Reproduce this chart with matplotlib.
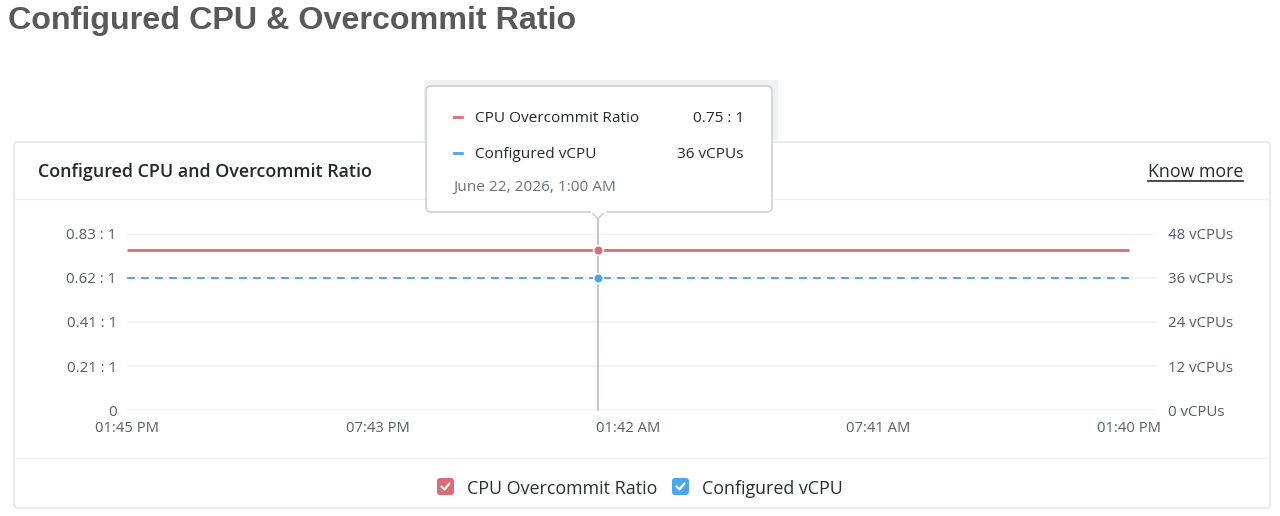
import numpy as np
import pandas as pd
import matplotlib
matplotlib.use("Agg")
import matplotlib.pyplot as plt
import matplotlib.dates as mdates
import matplotlib.transforms as mtransforms
from matplotlib.patches import FancyBboxPatch, Rectangle, Polygon

# data
times = pd.to_datetime(["2026-06-21 13:45", "2026-06-22 01:00", "2026-06-22 13:40"])
ratio = [0.75, 0.75, 0.75]
vcpus = [36, 36, 36]
hover_idx = 1

ratio_max = 0.825
ratio_ticks = [0, 0.20625, 0.4125, 0.61875, 0.825]
ratio_labels = ["0", "0.21 : 1", "0.41 : 1", "0.62 : 1", "0.83 : 1"]
vcpu_ticks = [0, 12, 24, 36, 48]
vcpu_labels = [f"{v} vCPUs" for v in vcpu_ticks]

RED = "#dc6b74"
BLUE = "#4ba6f2"
GRID = "#eceff1"
TICK = "#555d66"
FONT = ["Open Sans", "DejaVu Sans"]
plt.rcParams["font.family"] = FONT

W, H = 1280, 516
fig = plt.figure(figsize=(W / 100, H / 100), dpi=100)

def frac(x0, y0, x1, y1):
    return [x0 / W, 1 - y1 / H, (x1 - x0) / W, (y1 - y0) / H]

# main plot area
ax = fig.add_axes(frac(127, 234, 1156, 410))
ax.plot(times, ratio, color=RED, lw=2.0, solid_capstyle="butt", zorder=3)
ax.set_ylim(0, ratio_max)
ax.set_yticks(ratio_ticks)
ax.set_yticklabels(ratio_labels)
ax.grid(axis="y", color=GRID, lw=1.1)
ax.set_axisbelow(True)

ax2 = ax.twinx()
ax2.plot(times, vcpus, color=BLUE, lw=1.4, ls=(0, (4, 3.2)), zorder=3)
ax2.set_ylim(0, 48)
ax2.set_yticks(vcpu_ticks)
ax2.set_yticklabels(vcpu_labels)

t0, t1 = mdates.date2num(times[0]), mdates.date2num(times[-1])
ax.set_xlim(t0, t1 + (1156 - 1129) / (1129 - 127) * (t1 - t0))
ax.set_xticks(np.linspace(t0, t1, 5))
ax.xaxis.set_major_formatter(mdates.DateFormatter("%I:%M %p"))

for a in (ax, ax2):
    for s in a.spines.values():
        s.set_visible(False)
    a.tick_params(length=0, labelsize=10.8, labelcolor=TICK)
ax.tick_params(axis="x", labelsize=10.6, pad=8)
ax.tick_params(axis="y", pad=7.5)
ax2.tick_params(axis="y", pad=8.5)

# hover crosshair + markers
th = times[hover_idx]
blend = mtransforms.blended_transform_factory(ax.transData, ax.transAxes)
ax.plot([th, th], [0, (410 - 212) / 176], transform=blend, color="#b5bcc4",
        lw=1.2, clip_on=False, zorder=2)
ax.plot(th, ratio[hover_idx], "o", color=RED, ms=7, mec="white", mew=1.2,
        clip_on=False, zorder=5)
ax2.plot(th, vcpus[hover_idx], "o", color=BLUE, ms=7, mec="white", mew=1.2,
         clip_on=False, zorder=5)

# overlay in pixel coordinates for the page decorations
ov = fig.add_axes([0, 0, 1, 1], facecolor="none")
ov.set_xlim(0, W)
ov.set_ylim(H, 0)
ov.axis("off")

fig.text(8 / W, 1 - 21 / H, "Configured CPU & Overcommit Ratio", fontsize=23.2,
         fontweight="bold", color="#595959", va="center", family="Liberation Sans")

# card
ov.add_patch(FancyBboxPatch((14, 142), 1256, 366, boxstyle="round,pad=0,rounding_size=4",
                            fc="none", ec="#e3e6e9", lw=1.2))
ov.plot([14, 1270], [199, 199], color="#eceef0", lw=1)
ov.plot([14, 1270], [458, 458], color="#eceef0", lw=1)
ov.text(38, 172, "Configured CPU and Overcommit Ratio", fontsize=12.9, fontweight="semibold",
        color="#25292e", va="center")
ov.text(1243, 172, "Know more", fontsize=12.8, color="#25292e", va="center", ha="right")
ov.plot([1148, 1243], [181, 181], color="#25292e", lw=1.2)

# tooltip
ov.add_patch(Rectangle((424, 80), 354, 60, fc="#f0f1f3", ec="none"))
ov.add_patch(FancyBboxPatch((426, 86), 346, 126, boxstyle="round,pad=0,rounding_size=5",
                            fc="white", ec="#c9ced4", lw=1.1, zorder=4))
ov.add_patch(Polygon([[591, 211.5], [598, 219], [605, 211.5]], closed=False,
                     fc="white", ec="#c9ced4", lw=1.1, zorder=5))
ov.plot([591.5, 604.5], [211.8, 211.8], color="white", lw=1.6, zorder=6)
ov.plot([454, 462], [117, 117], color=RED, lw=2, zorder=6)
ov.plot([454, 462], [153, 153], color=BLUE, lw=2, zorder=6)
ov.text(475, 119, "CPU Overcommit Ratio", fontsize=11.1, color="#25292e", va="center", zorder=6)
ov.text(744, 119, "0.75 : 1", fontsize=11.1, color="#25292e", va="center", ha="right", zorder=6)
ov.text(475, 155, "Configured vCPU", fontsize=11.1, color="#25292e", va="center", zorder=6)
ov.text(744, 155, "36 vCPUs", fontsize=11.1, color="#25292e", va="center", ha="right", zorder=6)
ov.text(453, 188, "June 22, 2026, 1:00 AM", fontsize=11.1, color="#6b737c", va="center", zorder=6)

# legend with checkboxes
def checkbox(x, y, color):
    ov.add_patch(FancyBboxPatch((x, y), 17, 17, boxstyle="round,pad=0,rounding_size=3",
                                fc=color, ec="none"))
    ov.plot([x + 4.5, x + 7.5, x + 12.5], [y + 8.5, y + 11.5, y + 5.5], color="white",
            lw=1.6, solid_capstyle="round", solid_joinstyle="round")

checkbox(437, 478, RED)
ov.text(467, 489, "CPU Overcommit Ratio", fontsize=12.9, color="#2b2f34", va="center")
checkbox(672, 478, BLUE)
ov.text(702, 489, "Configured vCPU", fontsize=12.9, color="#2b2f34", va="center")

fig.savefig("out.png", dpi=100)
